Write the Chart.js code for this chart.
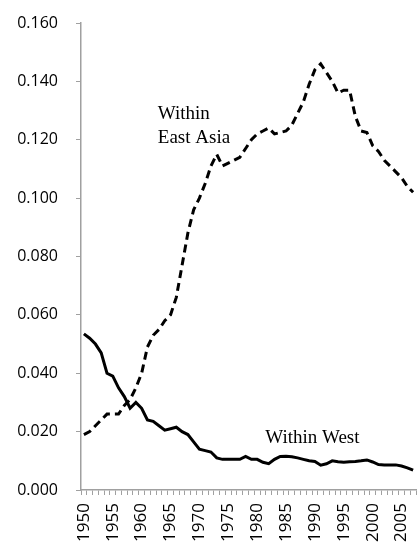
<!DOCTYPE html>
<html>
<head>
<meta charset="utf-8">
<script src="https://cdn.jsdelivr.net/npm/chart.js@4/dist/chart.umd.min.js"></script>
<style>
  html, body { margin: 0; padding: 0; background: #fff; }
  #wrap { width: 417px; height: 551px; }
</style>
</head>
<body>
<div id="wrap"><canvas id="chart" width="417" height="551"></canvas></div>
<script>
// years on the category axis
const years = [];
for (let y = 1950; y <= 2007; y++) years.push(String(y));

// only every fifth year gets a label
const yearLabels = ['1950', '1955', '1960', '1965', '1970', '1975', '1980', '1985', '1990', '1995', '2000', '2005'];

const eastAsia = [
    0.019, 0.020, 0.022, 0.024, 0.026, 0.026, 0.026, 0.029, 0.031, 0.035,
    0.040, 0.049, 0.053, 0.055, 0.058, 0.060, 0.066, 0.077, 0.088, 0.096,
    0.100, 0.105, 0.111, 0.115, 0.111, 0.112, 0.113, 0.114, 0.117, 0.120,
    0.122, 0.123, 0.124, 0.122, 0.1225, 0.123, 0.125, 0.129, 0.133, 0.139,
    0.144, 0.146, 0.143, 0.140, 0.136, 0.137, 0.137, 0.128, 0.123, 0.1225,
    0.118, 0.116, 0.113, 0.111, 0.109, 0.107, 0.104, 0.102
];

const west = [
    0.0535, 0.052, 0.050, 0.047, 0.040, 0.039, 0.035, 0.032, 0.028, 0.030,
    0.028, 0.024, 0.0235, 0.022, 0.0205, 0.021, 0.0215, 0.020, 0.019, 0.0165,
    0.014, 0.0135, 0.013, 0.011, 0.0105, 0.0105, 0.0105, 0.0105, 0.0115, 0.0105,
    0.0105, 0.0095, 0.009, 0.0105, 0.0115, 0.0116, 0.0114, 0.011, 0.0105, 0.010,
    0.0098, 0.0085, 0.009, 0.010, 0.0097, 0.0095, 0.0097, 0.0098, 0.010, 0.0103,
    0.0096, 0.0087, 0.0086, 0.0086, 0.0086, 0.0082, 0.0076, 0.0068
];

const yTicks = [0, 0.02, 0.04, 0.06, 0.08, 0.10, 0.12, 0.14, 0.16];

// text labels placed in data coordinates (category index, value)
const notes = [
    { text: 'Within', x: 12.8, y: 0.1272 },
    { text: 'East Asia', x: 12.8, y: 0.1190 },
    { text: 'Within West', x: 31.4, y: 0.0161 }
];

const axisGray = '#a0a0a0';

const notePlugin = {
    id: 'notes',
    afterDatasetsDraw(chart) {
        const ctx = chart.ctx;
        const xs = chart.scales.x, ys = chart.scales.y;
        ctx.save();
        ctx.font = '19px "Liberation Serif", "Times New Roman", serif';
        ctx.fillStyle = '#000';
        ctx.textAlign = 'left';
        ctx.textBaseline = 'alphabetic';
        notes.forEach(n => {
            ctx.fillText(n.text, xs.getPixelForValue(n.x), ys.getPixelForValue(n.y));
        });
        ctx.restore();
    }
};

new Chart(document.getElementById('chart').getContext('2d'), {
    type: 'line',
    data: {
        labels: years,
        datasets: [
            {
                label: 'Within East Asia',
                data: eastAsia,
                borderColor: '#000',
                borderWidth: 3,
                borderDash: [8, 5],
                pointRadius: 0,
                tension: 0,
                fill: false
            },
            {
                label: 'Within West',
                data: west,
                borderColor: '#000',
                borderWidth: 3,
                pointRadius: 0,
                tension: 0,
                fill: false
            }
        ]
    },
    options: {
        responsive: false,
        animation: false,
        layout: { padding: { top: 23, left: 13, right: 1, bottom: 0 } },
        plugins: {
            legend: { display: false },
            tooltip: { enabled: false }
        },
        scales: {
            x: {
                offset: true,
                grid: {
                    offset: true,
                    drawOnChartArea: false,
                    color: axisGray,
                    tickLength: 5,
                    lineWidth: 1
                },
                border: { color: axisGray, width: 1.5 },
                ticks: {
                    autoSkip: false,
                    maxRotation: 90,
                    minRotation: 90,
                    padding: 8,
                    color: '#000',
                    font: { family: '"Open Sans", sans-serif', size: 17 },
                    callback: function(value, index) {
                        const lab = years[index];
                        return yearLabels.includes(lab) ? lab : '';
                    }
                },
                afterFit: function(scale) {
                    scale.height = 61;
                    scale.paddingLeft = 0;
                    scale.paddingRight = 0;
                }
            },
            y: {
                min: 0,
                max: 0.16,
                afterBuildTicks: function(scale) {
                    scale.ticks = yTicks.map(v => ({ value: v }));
                },
                grid: {
                    drawOnChartArea: false,
                    color: axisGray,
                    tickLength: 5
                },
                border: { color: axisGray, width: 1.5 },
                ticks: {
                    padding: 18,
                    color: '#000',
                    font: { family: '"Open Sans", sans-serif', size: 16 },
                    callback: function(value) { return Number(value).toFixed(3); }
                },
                afterFit: function(scale) {
                    scale.width = 68;
                    scale.paddingTop = 0;
                    scale.paddingBottom = 0;
                }
            }
        }
    },
    plugins: [notePlugin]
});
</script>
</body>
</html>
